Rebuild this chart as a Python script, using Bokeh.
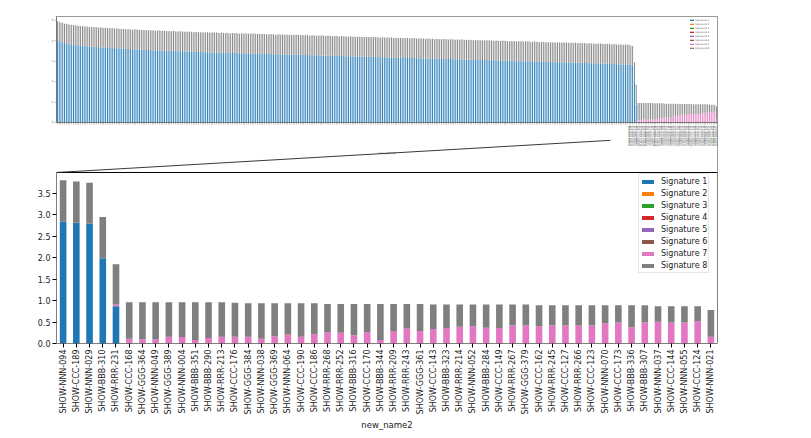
import math
from bokeh.plotting import figure
from bokeh.layouts import column
from bokeh.models import (ColumnDataSource, FactorRange, Range1d, FixedTicker,
                          PrintfTickFormatter)
from bokeh.embed import file_html
from bokeh.resources import INLINE

signatures = ["Signature 1", "Signature 2", "Signature 3", "Signature 4",
              "Signature 5", "Signature 6", "Signature 7", "Signature 8"]
colors = ["#1f77b4", "#ff7f0e", "#2ca02c", "#d62728",
          "#9467bd", "#8c564b", "#e377c2", "#7f7f7f"]

# ---- zoomed (last 50 samples) ----
names = ["SHOW-NNN-094", "SHOW-CCC-189", "SHOW-NNN-029", "SHOW-BBB-310", "SHOW-RRR-231",
         "SHOW-CCC-168", "SHOW-GGG-364", "SHOW-NNN-049", "SHOW-GGG-389", "SHOW-NNN-004",
         "SHOW-BBB-351", "SHOW-BBB-290", "SHOW-RRR-213", "SHOW-CCC-176", "SHOW-GGG-384",
         "SHOW-NNN-038", "SHOW-GGG-369", "SHOW-NNN-064", "SHOW-CCC-190", "SHOW-CCC-186",
         "SHOW-RRR-268", "SHOW-RRR-252", "SHOW-BBB-316", "SHOW-CCC-170", "SHOW-BBB-344",
         "SHOW-RRR-209", "SHOW-RRR-243", "SHOW-GGG-361", "SHOW-CCC-143", "SHOW-BBB-323",
         "SHOW-RRR-214", "SHOW-NNN-052", "SHOW-BBB-284", "SHOW-CCC-149", "SHOW-RRR-267",
         "SHOW-GGG-379", "SHOW-CCC-162", "SHOW-RRR-245", "SHOW-CCC-127", "SHOW-RRR-266",
         "SHOW-CCC-123", "SHOW-NNN-070", "SHOW-CCC-173", "SHOW-BBB-336", "SHOW-BBB-307",
         "SHOW-NNN-037", "SHOW-CCC-144", "SHOW-NNN-055", "SHOW-CCC-124", "SHOW-NNN-021"]
sig1_zoom = [2.84, 2.82, 2.80, 1.99, 0.87, 0, 0, 0, 0, 0,
             0, 0, 0, 0, 0, 0, 0, 0, 0, 0,
             0, 0, 0, 0, 0, 0, 0, 0, 0, 0,
             0, 0, 0, 0, 0, 0, 0, 0, 0, 0,
             0, 0, 0, 0, 0, 0, 0, 0, 0, 0]
sig7_zoom = [0, 0, 0, 0, 0.04, 0.11, 0.10, 0.10, 0.16, 0.15,
             0.08, 0.13, 0.16, 0.16, 0.16, 0.11, 0.17, 0.21, 0.16, 0.22,
             0.26, 0.25, 0.19, 0.26, 0.08, 0.29, 0.35, 0.29, 0.34, 0.36,
             0.39, 0.40, 0.37, 0.36, 0.42, 0.42, 0.40, 0.42, 0.42, 0.42,
             0.42, 0.47, 0.49, 0.38, 0.49, 0.51, 0.49, 0.49, 0.52, 0.16]
sig8_zoom = [0.97, 0.96, 0.95, 0.96, 0.94, 0.85, 0.86, 0.86, 0.80, 0.81,
             0.88, 0.83, 0.80, 0.79, 0.78, 0.83, 0.77, 0.73, 0.78, 0.72,
             0.66, 0.67, 0.73, 0.66, 0.84, 0.63, 0.57, 0.63, 0.57, 0.55,
             0.52, 0.51, 0.54, 0.55, 0.49, 0.49, 0.49, 0.47, 0.47, 0.47,
             0.47, 0.42, 0.40, 0.51, 0.40, 0.36, 0.38, 0.38, 0.35, 0.62]

# ---- overview: the samples before the zoomed ones ----
sig1_rest = [
    4.04, 3.99, 3.96, 3.93, 3.90, 3.88, 3.86, 3.84, 3.83, 3.81, 3.80, 3.79, 3.78, 3.77, 3.76, 3.75, 3.74, 3.73, 3.72, 3.72,
    3.71, 3.70, 3.70, 3.69, 3.69, 3.68, 3.67, 3.67, 3.66, 3.66, 3.65, 3.65, 3.64, 3.64, 3.63, 3.63, 3.62, 3.62, 3.61, 3.61,
    3.60, 3.60, 3.59, 3.59, 3.58, 3.58, 3.58, 3.57, 3.57, 3.56, 3.56, 3.56, 3.55, 3.55, 3.54, 3.54, 3.54, 3.53, 3.53, 3.53,
    3.52, 3.52, 3.52, 3.51, 3.51, 3.51, 3.50, 3.50, 3.50, 3.49, 3.49, 3.49, 3.48, 3.48, 3.48, 3.47, 3.47, 3.47, 3.46, 3.46,
    3.46, 3.46, 3.45, 3.45, 3.45, 3.44, 3.44, 3.44, 3.44, 3.43, 3.43, 3.43, 3.43, 3.42, 3.42, 3.42, 3.42, 3.41, 3.41, 3.41,
    3.41, 3.40, 3.40, 3.40, 3.40, 3.39, 3.39, 3.39, 3.39, 3.38, 3.38, 3.38, 3.38, 3.37, 3.37, 3.37, 3.37, 3.36, 3.36, 3.36,
    3.36, 3.35, 3.35, 3.35, 3.35, 3.34, 3.34, 3.34, 3.34, 3.33, 3.33, 3.33, 3.33, 3.32, 3.32, 3.32, 3.32, 3.31, 3.31, 3.31,
    3.31, 3.30, 3.30, 3.30, 3.30, 3.29, 3.29, 3.29, 3.29, 3.28, 3.28, 3.28, 3.28, 3.27, 3.27, 3.27, 3.27, 3.26, 3.26, 3.26,
    3.26, 3.25, 3.25, 3.25, 3.25, 3.24, 3.24, 3.24, 3.24, 3.23, 3.23, 3.23, 3.23, 3.22, 3.22, 3.22, 3.22, 3.21, 3.21, 3.21,
    3.21, 3.20, 3.20, 3.20, 3.20, 3.19, 3.19, 3.19, 3.19, 3.18, 3.18, 3.18, 3.18, 3.17, 3.17, 3.17, 3.17, 3.16, 3.16, 3.16,
    3.16, 3.15, 3.15, 3.15, 3.15, 3.14, 3.14, 3.14, 3.14, 3.13, 3.13, 3.13, 3.13, 3.12, 3.12, 3.12, 3.12, 3.11, 3.11, 3.11,
    3.11, 3.10, 3.10, 3.10, 3.10, 3.09, 3.09, 3.09, 3.09, 3.08, 3.08, 3.08, 3.08, 3.07, 3.07, 3.07, 3.07, 3.06, 3.06, 3.06,
    3.06, 3.05, 3.05, 3.05, 3.05, 3.04, 3.04, 3.04, 3.04, 3.03, 3.03, 3.03, 3.03, 3.02, 3.02, 3.02, 3.02, 3.01, 3.01, 3.01,
    3.01, 3.00, 3.00, 3.00, 3.00, 2.99, 2.99, 2.99, 2.99, 2.98, 2.98, 2.98, 2.98, 2.97, 2.97, 2.97, 2.97, 2.96, 2.96, 2.96,
    2.96, 2.95, 2.95, 2.95, 2.95, 2.94, 2.94, 2.94, 2.94, 2.93, 2.93, 2.93, 2.93, 2.92, 2.92, 2.92, 2.92, 2.91, 2.91, 2.91,
    2.91, 2.90, 2.90, 2.90, 2.89, 2.89, 2.89, 2.88, 2.88, 2.88, 2.87, 2.87, 2.87, 2.86, 2.86, 2.86, 2.85, 2.85, 2.85, 2.85]
sig8_rest = [
    0.93, 0.95, 0.94, 0.96, 0.95, 0.97, 0.96, 0.95, 0.97, 0.96, 0.98, 0.96, 0.97, 0.95, 0.97, 0.96, 0.98, 0.97, 0.96, 0.97,
    0.96, 0.98, 0.97, 0.96, 0.98, 0.97, 0.96, 0.98, 0.97, 0.96, 0.97, 0.98, 0.96, 0.97, 0.98, 0.96, 0.97, 0.98, 0.97, 0.96,
    0.97, 0.98, 0.96, 0.97, 0.99, 0.97, 0.96, 0.98, 0.97, 0.98, 0.96, 0.97, 0.98, 0.97, 0.99, 0.96, 0.97, 0.98, 0.97, 0.96,
    0.98, 0.97, 0.96, 0.98, 0.97, 0.99, 0.97, 0.96, 0.98, 0.97, 0.98, 0.96, 0.97, 0.99, 0.97, 0.98, 0.96, 0.97, 0.98, 0.97,
    0.97, 0.96, 0.98, 0.97, 0.98, 0.97, 0.96, 0.99, 0.97, 0.98, 0.97, 0.96, 0.98, 0.97, 0.97, 0.98, 0.96, 0.97, 0.98, 0.97,
    0.98, 0.97, 0.96, 0.98, 0.97, 0.98, 0.97, 0.96, 0.98, 0.97, 0.99, 0.97, 0.96, 0.98, 0.97, 0.98, 0.97, 0.97, 0.96, 0.98,
    0.97, 0.98, 0.96, 0.97, 0.98, 0.97, 0.99, 0.96, 0.97, 0.98, 0.97, 0.96, 0.98, 0.97, 0.98, 0.97, 0.96, 0.98, 0.97, 0.97,
    0.98, 0.96, 0.97, 0.98, 0.97, 0.96, 0.98, 0.97, 0.99, 0.97, 0.96, 0.98, 0.97, 0.98, 0.96, 0.97, 0.98, 0.97, 0.96, 0.98,
    0.97, 0.98, 0.97, 0.96, 0.98, 0.97, 0.98, 0.96, 0.97, 0.99, 0.97, 0.98, 0.96, 0.97, 0.98, 0.97, 0.96, 0.98, 0.97, 0.98,
    0.96, 0.97, 0.98, 0.97, 0.96, 0.98, 0.97, 0.99, 0.97, 0.96, 0.98, 0.97, 0.98, 0.96, 0.97, 0.98, 0.97, 0.96, 0.98, 0.97,
    0.98, 0.97, 0.96, 0.98, 0.97, 0.98, 0.96, 0.97, 0.99, 0.97, 0.98, 0.96, 0.97, 0.98, 0.97, 0.96, 0.98, 0.97, 0.98, 0.96,
    0.97, 0.98, 0.97, 0.96, 0.98, 0.97, 0.99, 0.97, 0.96, 0.98, 0.97, 0.98, 0.96, 0.97, 0.98, 0.97, 0.96, 0.98, 0.97, 0.98,
    0.96, 0.98, 0.97, 0.98, 0.96, 0.97, 0.98, 0.97, 0.96, 0.99, 0.97, 0.98, 0.96, 0.97, 0.98, 0.97, 0.98, 0.96, 0.97, 0.98,
    0.97, 0.96, 0.98, 0.97, 0.98, 0.96, 0.97, 0.99, 0.97, 0.98, 0.96, 0.97, 0.98, 0.97, 0.96, 0.98, 0.97, 0.98, 0.96, 0.97,
    0.98, 0.97, 0.96, 0.98, 0.97, 0.98, 0.97, 0.96, 0.98, 0.97, 0.99, 0.97, 0.96, 0.98, 0.97, 0.98, 0.96, 0.97, 0.98, 0.97,
    0.97, 0.98, 0.96, 0.97, 0.98, 0.97, 0.96, 0.98, 0.97, 0.98, 0.96, 0.97, 0.98, 0.97, 0.96, 0.98, 0.97, 0.97, 0.98, 0.96]

y_ticks_zoom = [0.0, 0.5, 1.0, 1.5, 2.0, 2.5, 3.0, 3.5]
y_ticks_over = [0, 1, 2, 3, 4, 5]

n_rest = len(sig1_rest)
n_zoom = len(names)
n_all = n_rest + n_zoom
keys = ["s%d" % i for i in range(1, 9)]

zero_zoom = [0.0] * n_zoom
zoom_data = {"name": names, "s1": sig1_zoom, "s2": zero_zoom, "s3": zero_zoom,
             "s4": zero_zoom, "s5": zero_zoom, "s6": zero_zoom,
             "s7": sig7_zoom, "s8": sig8_zoom}
zero_rest = [0.0] * n_rest
all_data = {"idx": list(range(n_all)),
            "s1": sig1_rest + sig1_zoom, "s2": zero_rest + zero_zoom,
            "s3": zero_rest + zero_zoom, "s4": zero_rest + zero_zoom,
            "s5": zero_rest + zero_zoom, "s6": zero_rest + zero_zoom,
            "s7": zero_rest + sig7_zoom, "s8": sig8_rest + sig8_zoom}

W = 803
FONT = "DejaVu Sans"

# ---------------- overview (top) ----------------
H1 = 156
p1 = figure(width=W, height=H1, x_range=Range1d(-0.5, n_all - 0.5),
            y_range=Range1d(0, 5.2), output_backend="svg", toolbar_location=None,
            min_border_left=55, min_border_right=85, min_border_top=16,
            min_border_bottom=34)
p1.vbar_stack(keys, x="idx", width=0.5, source=ColumnDataSource(all_data),
              fill_color=colors, line_color=None, legend_label=signatures)
p1.xgrid.visible = False
p1.ygrid.visible = False
p1.outline_line_color = "#555555"
p1.outline_line_width = 0.6
for ax in (p1.xaxis[0], p1.yaxis[0]):
    ax.axis_line_width = 0.5
    ax.axis_line_color = "#555555"
    ax.major_tick_line_width = 0.4
    ax.major_tick_line_color = "#777777"
    ax.major_tick_out = 2
    ax.major_tick_in = 0
    ax.minor_tick_line_color = None
    ax.major_label_text_font = FONT
    ax.major_label_text_font_size = "2.6px"
    ax.major_label_text_color = "#555555"
    ax.major_label_standoff = 1
p1.yaxis.ticker = FixedTicker(ticks=y_ticks_over)
p1.xaxis.ticker = FixedTicker(ticks=list(range(n_all)))
p1.xaxis.major_label_overrides = {i: (names[i - n_rest] if i >= n_rest else "")
                                  for i in range(n_all)}
p1.xaxis.major_label_orientation = math.pi / 2
p1.xaxis.axis_label = "new_name2"
p1.xaxis.axis_label_text_font = FONT
p1.xaxis.axis_label_text_font_size = "2.8px"
p1.xaxis.axis_label_text_font_style = "normal"
p1.xaxis.axis_label_text_color = "#555555"
p1.xaxis.axis_label_standoff = 1
lg1 = p1.legend[0]
lg1.location = "top_right"
lg1.label_text_font = FONT
lg1.label_text_font_size = "2.5px"
lg1.label_text_color = "#666666"
lg1.label_height = 4
lg1.glyph_height = 2
lg1.glyph_width = 5
lg1.spacing = 0
lg1.padding = 1
lg1.margin = 1
lg1.label_standoff = 1
lg1.border_line_alpha = 0

# ---------------- zoom (bottom) ----------------
# frame spans page y 120..343; the chart box itself is 0..3.99
Y_TOP = 5.203
Y_BOX = 3.99
B2 = 92
H2 = 223 + B2
p2 = figure(width=W, height=H2, x_range=FactorRange(factors=names, range_padding=0),
            y_range=Range1d(0, Y_TOP), output_backend="svg", toolbar_location=None,
            min_border_left=56, min_border_right=86, min_border_top=0,
            min_border_bottom=B2)
p2.margin = (120 - H1, 0, 0, 0)
p2.vbar_stack(keys, x="name", width=0.5, source=ColumnDataSource(zoom_data),
              fill_color=colors, line_color=None, legend_label=signatures)
p2.border_fill_alpha = 0
p2.background_fill_alpha = 0
p2.xgrid.visible = False
p2.ygrid.visible = False
p2.outline_line_color = None
# chart box (left, right, top, bottom edges)
p2.segment(x0=[0, n_zoom, 0, 0], y0=[0, 0, Y_BOX, 0],
           x1=[0, n_zoom, n_zoom, n_zoom], y1=[Y_BOX, Y_BOX, Y_BOX, 0],
           line_color="black", line_width=1)
# zoom connector lines towards the overview
p2.segment(x0=[0, n_zoom], y0=[Y_BOX, Y_BOX], x1=[41.9, n_zoom], y1=[4.74, 5.16],
           line_color="#222222", line_width=0.9)
for ax in (p2.xaxis[0], p2.yaxis[0]):
    ax.axis_line_color = None
    ax.major_tick_out = 4
    ax.major_tick_in = 0
    ax.minor_tick_line_color = None
    ax.major_label_text_font = FONT
    ax.major_label_text_font_size = "8px"
    ax.major_label_text_color = "#222222"
    ax.major_label_standoff = 2
p2.yaxis.ticker = FixedTicker(ticks=y_ticks_zoom)
p2.yaxis.formatter = PrintfTickFormatter(format="%.1f")
p2.xaxis.major_label_orientation = math.pi / 2
p2.xaxis.axis_label = "new_name2"
p2.xaxis.axis_label_text_font = FONT
p2.xaxis.axis_label_text_font_size = "8.5px"
p2.xaxis.axis_label_text_font_style = "normal"
p2.xaxis.axis_label_text_color = "#222222"
p2.xaxis.axis_label_standoff = 3
lg2 = p2.legend[0]
lg2.location = (582, 70)
lg2.label_text_font = FONT
lg2.label_text_font_size = "8px"
lg2.label_text_color = "#222222"
lg2.label_height = 12
lg2.glyph_height = 5
lg2.glyph_width = 15
lg2.spacing = 0
lg2.padding = 1
lg2.margin = 0
lg2.label_standoff = 6
lg2.border_line_color = "#cccccc"
lg2.border_line_width = 1
lg2.background_fill_color = "white"
lg2.background_fill_alpha = 1

layout = column(p1, p2, spacing=0)

open("out.html", "w").write(file_html(layout, INLINE))
